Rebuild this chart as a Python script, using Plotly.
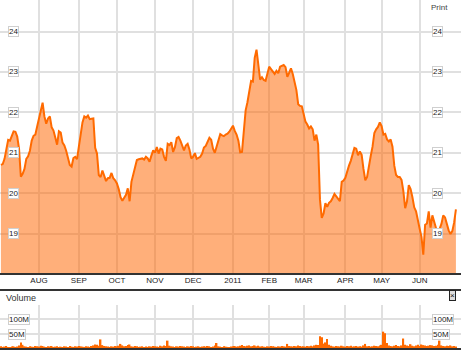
import pandas as pd
import plotly.graph_objects as go

# ---------------- data ----------------
market_holidays = ["2010-07-05", "2010-09-06", "2010-11-25", "2010-12-24",
                   "2011-01-17", "2011-02-21", "2011-04-22", "2011-05-30"]
sessions = pd.bdate_range("2010-07-01", "2011-06-30", freq="C", holidays=market_holidays)

price = [
    20.70, 20.72, 20.85, 21.05, 21.32, 21.30, 21.40, 21.53, 21.52, 21.40,
    21.10, 20.41, 20.48, 20.60, 20.85, 20.91, 21.05, 21.30, 21.42, 21.45,
    21.65, 21.87, 22.05, 22.24, 21.90, 21.72, 21.85, 21.90, 21.63, 21.55,
    21.38, 21.20, 21.53, 21.50, 21.25, 21.18, 21.05, 20.90, 20.70, 20.66,
    20.87, 20.90, 20.84, 21.15, 21.45, 21.75, 21.90, 21.87, 21.92, 21.83,
    21.84, 21.85, 21.12, 20.98, 20.45, 20.40, 20.56, 20.43, 20.30, 20.37,
    20.38, 20.50, 20.37, 20.32, 20.24, 20.10, 19.90, 19.81, 19.88, 19.96,
    20.12, 19.80, 20.28, 20.48, 20.65, 20.82, 20.84, 20.85, 20.86, 20.83,
    20.90, 20.86, 20.78, 20.93, 21.06, 21.00, 21.14, 20.98, 21.10, 21.08,
    20.90, 20.80, 21.22, 21.19, 21.26, 21.02, 21.14, 21.36, 21.39, 21.30,
    21.20, 21.06, 21.18, 21.22, 21.08, 20.86, 20.90, 20.99, 20.85, 20.88,
    20.90, 20.98, 21.13, 21.17, 21.26, 21.37, 21.32, 21.10, 21.00, 21.15,
    21.34, 21.46, 21.43, 21.41, 21.45, 21.47, 21.52, 21.58, 21.67, 21.54,
    21.45, 21.30, 21.01, 21.02, 21.60, 22.05, 22.25, 22.55, 22.78, 22.76,
    23.35, 23.55, 23.20, 22.81, 22.87, 22.80, 22.78, 23.00, 23.13, 23.07,
    23.00, 22.95, 23.03, 22.97, 23.13, 23.16, 23.17, 23.12, 22.88, 22.98,
    23.09, 22.95, 22.78, 22.55, 22.20, 22.16, 22.15, 21.93, 21.77, 21.70,
    21.60, 21.65, 21.58, 21.30, 21.45, 21.20, 19.84, 19.39, 19.50, 19.75,
    19.66, 19.76, 19.80, 19.88, 19.98, 19.92, 19.87, 19.80, 20.28, 20.31,
    20.38, 20.56, 20.68, 20.80, 20.98, 21.12, 21.10, 20.94, 21.03, 20.95,
    20.60, 20.32, 20.40, 20.70, 20.92, 21.15, 21.49, 21.58, 21.64, 21.75,
    21.66, 21.45, 21.47, 21.33, 21.28, 21.33, 21.15, 20.68, 20.45, 20.40,
    20.40, 20.33, 20.05, 19.63, 19.80, 20.20, 20.10, 19.90, 19.65, 19.55,
    19.30, 19.12, 18.92, 18.48, 19.22, 19.25, 19.55, 19.15, 19.45, 19.27,
    19.14, 19.06, 19.12, 19.24, 19.45, 19.40, 19.22, 19.08, 18.99, 19.06,
    19.27, 19.60,
]

volume_m = [
    9, 7, 8, 10, 6, 7, 8, 9, 7, 8, 12, 22, 14, 9, 8, 7, 9, 8, 7, 10,
    9, 8, 11, 10, 8, 7, 9, 8, 10, 7, 8, 9, 7, 8, 6, 9, 8, 7, 10, 8,
    7, 9, 8, 10, 9, 8, 7, 9, 8, 7, 10, 12, 15, 14, 11, 32, 13, 10, 9, 8,
    7, 9, 8, 10, 9, 11, 17, 12, 9, 10, 13, 15, 9, 8, 10, 9, 7, 8, 9, 7,
    8, 7, 9, 8, 10, 9, 8, 7, 11, 9, 12, 10, 28, 11, 9, 8, 7, 9, 8, 10,
    9, 8, 7, 9, 8, 10, 9, 7, 8, 9, 7, 8, 9, 8, 10, 9, 7, 8, 12, 20,
    9, 8, 7, 9, 8, 7, 6, 8, 9, 10, 8, 9, 11, 13, 10, 9, 11, 12, 9, 10,
    12, 9, 11, 8, 9, 8, 7, 9, 8, 10, 9, 8, 7, 9, 8, 10, 9, 8, 17, 10,
    9, 8, 10, 9, 12, 10, 8, 9, 8, 10, 9, 11, 9, 12, 14, 13, 43, 39, 18, 22,
    33, 14, 11, 9, 8, 10, 9, 8, 11, 9, 8, 10, 9, 11, 8, 9, 10, 8, 9, 8,
    12, 17, 9, 10, 8, 9, 11, 10, 9, 12, 14, 58, 53, 20, 12, 10, 9, 11, 13, 10,
    9, 12, 35, 14, 12, 10, 16, 11, 9, 12, 14, 10, 15, 13, 12, 10, 11, 13, 12, 10,
    11, 14, 28, 12, 10, 9, 11, 10, 12, 9, 10, 8,
]

month_starts = ["2010-08", "2010-09", "2010-10", "2010-11", "2010-12", "2011-01",
                "2011-02", "2011-03", "2011-04", "2011-05", "2011-06"]
month_labels = ["AUG", "SEP", "OCT", "NOV", "DEC", "2011", "FEB", "MAR", "APR", "MAY", "JUN"]

price_ticks = [19, 20, 21, 22, 23, 24]
volume_ticks = [50, 100]
volume_tick_text = ["50M", "100M"]

# ---------------- figure ----------------
day = list(range(len(price)))
tickvals = [int(sessions.searchsorted(pd.Timestamp(m + "-01"))) for m in month_starts]

LINE = "#ff6a00"
FILL = "rgba(255,102,0,0.52)"
GRID = "#e0e0e0"
FONT = "Arial, Liberation Sans, sans-serif"

fig = go.Figure()
fig.add_trace(go.Scatter(x=day, y=price, mode="lines", fill="tozeroy",
                         line=dict(color=LINE, width=2), fillcolor=FILL,
                         xaxis="x", yaxis="y", hoverinfo="skip"))
fig.add_trace(go.Bar(x=list(range(len(volume_m))), y=volume_m, marker=dict(color=LINE, line=dict(width=0)),
                     xaxis="x2", yaxis="y2", hoverinfo="skip"))

xr = [-0.5, 253.8]
fig.update_layout(
    width=461, height=360, margin=dict(l=0, r=0, t=0, b=0),
    paper_bgcolor="white", plot_bgcolor="white", showlegend=False, bargap=0.15,
    font=dict(family=FONT, size=8, color="#222"),
    xaxis=dict(domain=[0, 1], range=xr, tickvals=tickvals, ticktext=month_labels,
               showgrid=True, gridcolor=GRID, gridwidth=2, zeroline=False, ticks="",
               tickfont=dict(size=8, color="#222"), anchor="y", fixedrange=True),
    yaxis=dict(domain=[1 - 274 / 360, 1], range=[18.0, 24.78], tickvals=price_ticks,
               showticklabels=False, showgrid=True, gridcolor=GRID, gridwidth=2,
               zeroline=False, ticks="", anchor="x"),
    xaxis2=dict(domain=[0, 1], range=xr, tickvals=tickvals, showticklabels=False,
                showgrid=True, gridcolor=GRID, gridwidth=2, zeroline=False, ticks="",
                anchor="y2"),
    yaxis2=dict(domain=[1 - 349 / 360, 1 - 305 / 360], range=[0, 147], tickvals=volume_ticks,
                showticklabels=False, showgrid=True, gridcolor=GRID, gridwidth=2,
                zeroline=False, ticks="", anchor="x2"),
)

# framing lines
for yy in [1 - 274 / 360, 1 - 290 / 360, 1 - 349 / 360]:
    fig.add_shape(type="line", xref="paper", yref="paper", x0=0, x1=1, y0=yy, y1=yy,
                  line=dict(color="#333", width=2))

box = dict(showarrow=False, bgcolor="white", bordercolor="#cfcfcf", borderwidth=1,
           borderpad=0, font=dict(size=8, color="#222", family=FONT), xanchor="left")
for v in price_ticks:
    fig.add_annotation(x=8 / 461, xref="paper", y=v, yref="y", text=str(v), **box)
    fig.add_annotation(x=432 / 461, xref="paper", y=v, yref="y", text=str(v), **box)
for v, t in zip(volume_ticks, volume_tick_text):
    fig.add_annotation(x=8 / 461, xref="paper", y=v, yref="y2", text=t, **box)
    fig.add_annotation(x=432 / 461, xref="paper", y=v, yref="y2", text=t, **box)

fig.add_annotation(x=4 / 461, y=1 - 298 / 360, xref="paper", yref="paper", text="Volume",
                   showarrow=False, xanchor="left", yanchor="middle",
                   font=dict(size=9, color="#333", family=FONT))
fig.add_annotation(x=439 / 461, y=1 - 7 / 360, xref="paper", yref="paper", text="Print",
                   showarrow=False, xanchor="center", yanchor="middle",
                   font=dict(size=8, color="#444", family=FONT))
fig.add_annotation(x=452 / 461, y=1 - 295 / 360, xref="paper", yref="paper", text="×",
                   showarrow=False, xanchor="center", yanchor="middle",
                   bgcolor="#dddddd", bordercolor="#222", borderwidth=1, borderpad=0,
                   font=dict(size=8, color="#111", family=FONT))

fig.write_html("out.html", config={"displayModeBar": False},
               post_script="document.body.style.margin='0';document.body.style.overflow='hidden';")
